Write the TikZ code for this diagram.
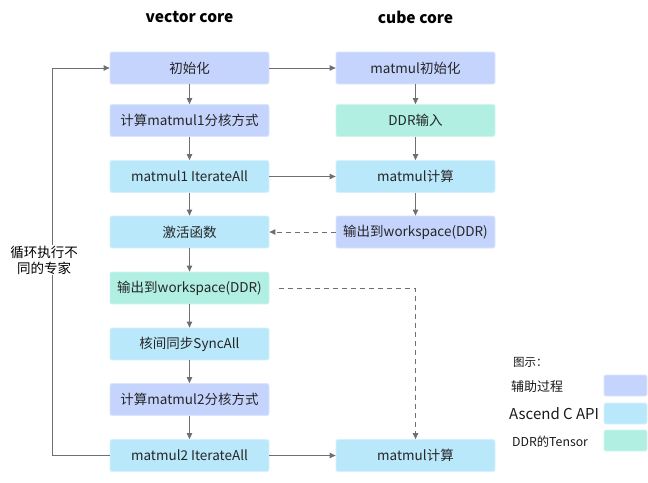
\documentclass[tikz,border=0pt]{standalone}
\usepackage{fontspec}
\setmainfont{Noto Sans CJK SC}
\usetikzlibrary{arrows.meta, positioning}

\definecolor{auxc}{HTML}{C4D4FC}
\definecolor{apic}{HTML}{BAE8FB}
\definecolor{ddrc}{HTML}{B0EFE1}
\definecolor{linec}{HTML}{6E6E73}

\tikzset{
  box/.style = {rectangle, rounded corners=2pt, minimum width=159pt, minimum height=32pt,
                inner sep=0pt, font=\fontsize{13.5}{15}\selectfont, text=black!85, line width=0.8pt},
  auxbox/.style = {box, fill=auxc, draw=auxc!60!white},
  apibox/.style = {box, fill=apic, draw=apic!60!white},
  ddrbox/.style = {box, fill=ddrc, draw=ddrc!60!white},
  swatch/.style = {rectangle, rounded corners=2pt, minimum width=43pt, minimum height=21pt, inner sep=0pt, line width=0.8pt},
  flow/.style = {-{Triangle[length=6pt,width=5.5pt]}, linec, line width=0.9pt},
  title/.style = {font=\fontsize{15.5}{17}\selectfont\bfseries},
  legtext/.style = {anchor=west, inner sep=0pt, text=black!90}
}

\begin{document}
\begin{tikzpicture} [x=1pt, y=-1pt, node distance = 56pt, on grid]
   \useasboundingbox (0,0) rectangle (648,482);

   \node (vtitle)[title] at (189.5,17) {vector core};
   \node (ctitle)[title] at (415.5,17) {cube core};

   % vector core
   \node (init)[auxbox] at (189.5,68) {初始化};
   \node (tile1)[auxbox, below = 52.5pt of init] {计算matmul1分核方式};
   \node (iter1)[apibox, below = of tile1] {matmul1 IterateAll};
   \node (act)[apibox, below = 55.5pt of iter1] {激活函数};
   \node (out)[ddrbox, below = of act] {输出到workspace(DDR)};
   \node (sync)[apibox, below = of out] {核间同步SyncAll};
   \node (tile2)[auxbox, below = 55.5pt of sync] {计算matmul2分核方式};
   \node (iter2)[apibox, below = of tile2] {matmul2 IterateAll};

   % cube core
   \node (mminit)[auxbox] at (415.5,68) {matmul初始化};
   \node (ddrin)[ddrbox, below = 52.5pt of mminit] {DDR输入};
   \node (mm1)[apibox, below = of ddrin] {matmul计算};
   \node (mmout)[auxbox, below = 55.5pt of mm1] {输出到workspace(DDR)};
   \node (mm2)[apibox] at (415.5,455.5) {matmul计算};

   \path[flow] (init) edge (tile1);
   \path[flow] (tile1) edge (iter1);
   \path[flow] (iter1) edge (act);
   \path[flow] (act) edge (out);
   \path[flow] (out) edge (sync);
   \path[flow] (sync) edge (tile2);
   \path[flow] (tile2) edge (iter2);

   \path[flow] (mminit) edge (ddrin);
   \path[flow] (ddrin) edge (mm1);
   \path[flow] (mm1) edge (mmout);

   \path[flow] (init) edge (mminit);
   \path[flow] (iter1) edge (mm1);
   \path[flow] (iter2) edge (mm2);
   \path[flow, dash pattern=on 5pt off 4pt] (mmout) edge (act);
   \draw[flow, dash pattern=on 5pt off 4pt] ([xshift=10pt]out.east) -| (mm2.north);

   % loop back
   \coordinate (loopc) at (52,455.5);
   \draw[flow] (iter2.west) -- (loopc) |- (init.west);
   \node (looplbl)[fill=white, align=center, inner sep=1pt, font=\fontsize{13.5}{16}\selectfont] at (44,260) {循环执行不\\同的专家};

   % legend
   \node (legtitle)[legtext, font=\fontsize{11.5}{13}\selectfont] at (513,362) {图示：};
   \node (legaux)[legtext, font=\fontsize{13}{14}\selectfont] at (511,387) {辅助过程};
   \node (legapi)[legtext, font=\fontsize{15}{16}\selectfont] at (509,414) {Ascend C API};
   \node (legddr)[legtext, font=\fontsize{12.3}{13}\selectfont] at (512,442) {DDR的Tensor};
   \node (swaux)[swatch, fill=auxc, draw=auxc!60!white] at (625.5,385.5) {};
   \node (swapi)[swatch, fill=apic, draw=apic!60!white] at (625.5,413.5) {};
   \node (swddr)[swatch, fill=ddrc, draw=ddrc!60!white] at (625.5,440.5) {};
\end{tikzpicture}
\end{document}
